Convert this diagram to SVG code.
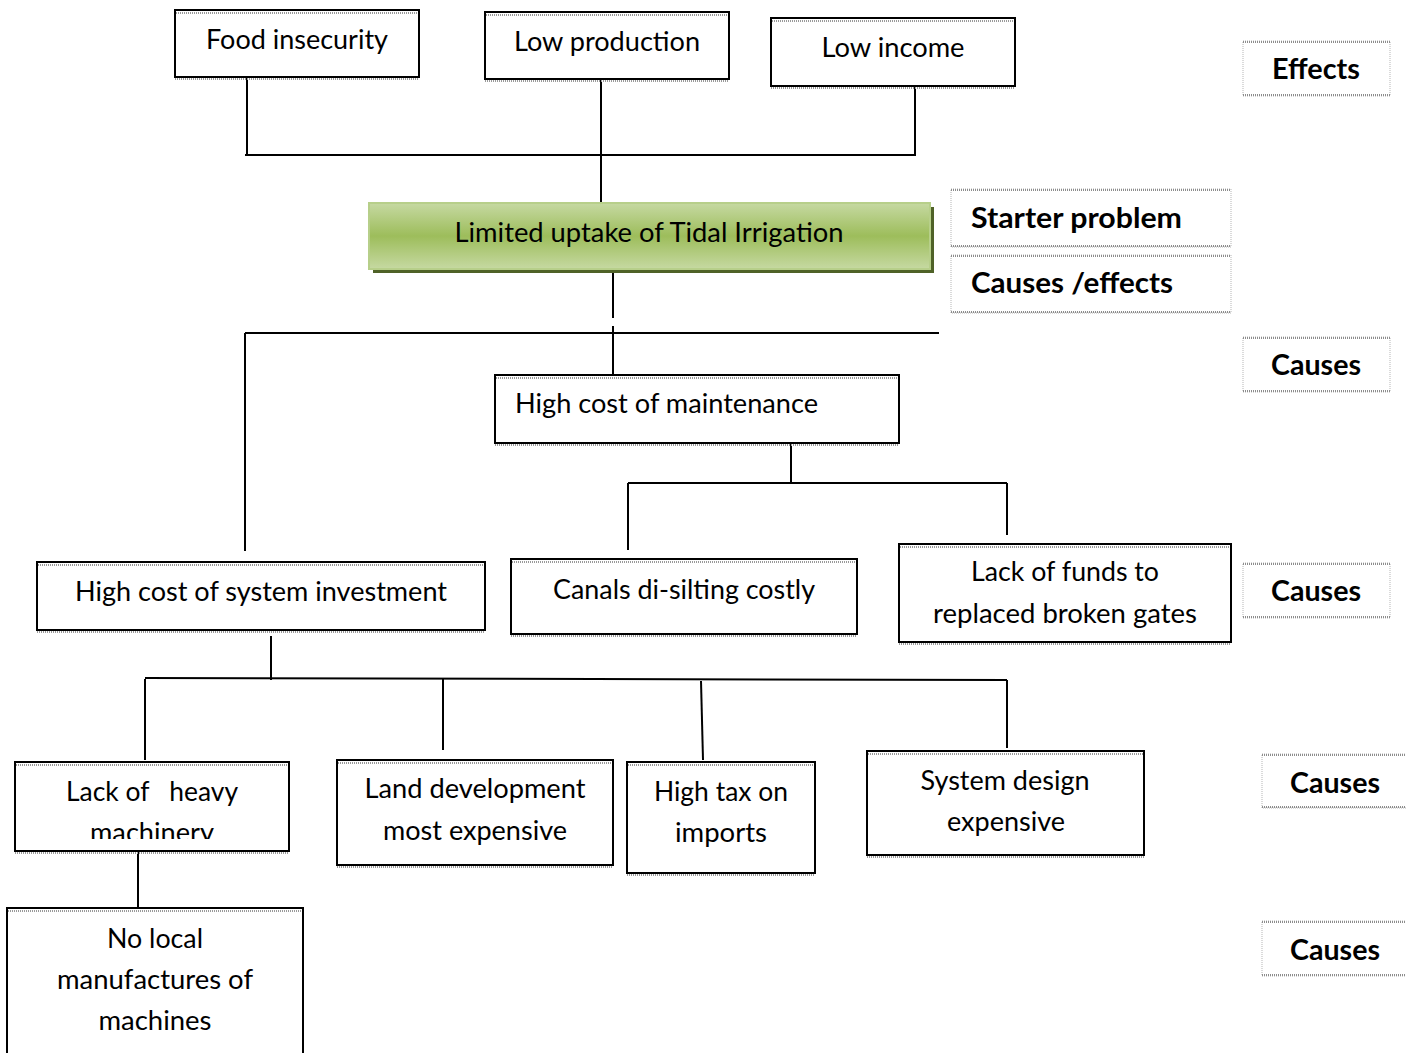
<svg xmlns="http://www.w3.org/2000/svg" width="1406" height="1053" viewBox="0 0 1406 1053">
  <defs>
    <linearGradient id="greenFill" x1="0" y1="0" x2="0" y2="1">
      <stop offset="0" stop-color="#c6d9a2"/>
      <stop offset="0.5" stop-color="#9dbd5b"/>
      <stop offset="1" stop-color="#c6d9a2"/>
    </linearGradient>
    <clipPath id="clipMachinery">
      <rect x="16" y="763" width="272" height="76"/>
    </clipPath>
  </defs>
  <style>
    .box { fill: #ffffff; stroke: #000000; stroke-width: 2; }
    .rule { stroke: #9a9a9a; stroke-width: 2; stroke-dasharray: 1 1; fill: none; }
    .tag { fill: #ffffff; stroke: #b5b5b5; stroke-width: 1; stroke-dasharray: 1 1; }
    .tagrule { stroke: #8c8c8c; stroke-width: 2; stroke-dasharray: 1 1; fill: none; }
    .txt { font-family: Lato, "Open Sans", sans-serif; font-size: 27px; fill: #000000; }
    .mid { text-anchor: middle; }
    .bold { font-family: Lato, "Open Sans", sans-serif; font-size: 28px; font-weight: 700; fill: #000000; }
    .conn line { stroke: #000000; stroke-width: 2; fill: none; }
  </style>

  <!-- connectors -->
  <g id="connectors" class="conn">
    <line x1="247" y1="77" x2="247" y2="155"/>
    <line x1="915" y1="86" x2="915" y2="155"/>
    <line x1="245" y1="155" x2="916" y2="155"/>
    <line x1="601" y1="79" x2="601" y2="203"/>
    <line x1="613" y1="270" x2="613" y2="318"/>
    <line x1="613" y1="326" x2="613" y2="375"/>
    <line x1="245" y1="333" x2="939" y2="333"/>
    <line x1="245" y1="333" x2="245" y2="551"/>
    <line x1="791" y1="443" x2="791" y2="483"/>
    <line x1="628" y1="483" x2="1007" y2="483"/>
    <line x1="628" y1="483" x2="628" y2="550"/>
    <line x1="1007" y1="483" x2="1007" y2="535"/>
    <line x1="271" y1="636" x2="271" y2="680"/>
    <line x1="145" y1="678" x2="1007" y2="680"/>
    <line x1="145" y1="679" x2="145" y2="760"/>
    <line x1="443" y1="678" x2="443" y2="750"/>
    <line x1="701" y1="681" x2="703" y2="760"/>
    <line x1="1007" y1="680" x2="1007" y2="748"/>
    <line x1="138" y1="851" x2="138" y2="908"/>
  </g>

  <!-- effects row -->
  <g id="food-insecurity">
    <rect class="box" x="175" y="10" width="244" height="67"/>
    <line class="rule" x1="176" y1="13" x2="418" y2="13"/>
    <line class="rule" x1="175" y1="79" x2="419" y2="79"/>
    <text class="txt mid" x="297" y="49" textLength="182" lengthAdjust="spacingAndGlyphs">Food insecurity</text>
  </g>
  <g id="low-production">
    <rect class="box" x="485" y="12" width="244" height="67"/>
    <line class="rule" x1="486" y1="15" x2="728" y2="15"/>
    <line class="rule" x1="485" y1="81" x2="729" y2="81"/>
    <text class="txt mid" x="607" y="51" textLength="186" lengthAdjust="spacingAndGlyphs">Low production</text>
  </g>
  <g id="low-income">
    <rect class="box" x="771" y="18" width="244" height="68"/>
    <line class="rule" x1="772" y1="21" x2="1014" y2="21"/>
    <line class="rule" x1="771" y1="88" x2="1015" y2="88"/>
    <text class="txt mid" x="893" y="57" textLength="143" lengthAdjust="spacingAndGlyphs">Low income</text>
  </g>

  <!-- core problem -->
  <g id="core-problem">
    <rect x="373" y="207" width="561" height="66" fill="#4f6228"/>
    <rect x="369" y="203" width="561" height="66" fill="url(#greenFill)" stroke="#b7cf8a" stroke-width="2"/>
    <text class="txt mid" x="649" y="242" textLength="389" lengthAdjust="spacingAndGlyphs">Limited uptake of Tidal Irrigation</text>
  </g>

  <!-- first-level causes -->
  <g id="maintenance-cost">
    <rect class="box" x="495" y="375" width="404" height="68"/>
    <line class="rule" x1="496" y1="378" x2="898" y2="378"/>
    <line class="rule" x1="495" y1="445" x2="899" y2="445"/>
    <text class="txt" x="515" y="413" textLength="303" lengthAdjust="spacingAndGlyphs">High cost of maintenance</text>
  </g>
  <g id="system-investment">
    <rect class="box" x="37" y="562" width="448" height="68"/>
    <line class="rule" x1="38" y1="565" x2="484" y2="565"/>
    <line class="rule" x1="37" y1="632" x2="485" y2="632"/>
    <text class="txt mid" x="261" y="601" textLength="372" lengthAdjust="spacingAndGlyphs">High cost of system investment</text>
  </g>
  <g id="canal-desilting">
    <rect class="box" x="511" y="559" width="346" height="75"/>
    <line class="rule" x1="512" y1="562" x2="856" y2="562"/>
    <line class="rule" x1="511" y1="636" x2="857" y2="636"/>
    <text class="txt mid" x="684" y="599" textLength="262" lengthAdjust="spacingAndGlyphs">Canals di-silting costly</text>
  </g>
  <g id="gate-funds">
    <rect class="box" x="899" y="544" width="332" height="98"/>
    <line class="rule" x1="900" y1="547" x2="1230" y2="547"/>
    <line class="rule" x1="899" y1="644" x2="1231" y2="644"/>
    <text class="txt mid" x="1065" y="581" textLength="188" lengthAdjust="spacingAndGlyphs">Lack of funds to</text>
    <text class="txt mid" x="1065" y="623" textLength="264" lengthAdjust="spacingAndGlyphs">replaced broken gates</text>
  </g>

  <!-- second-level causes -->
  <g id="heavy-machinery">
    <rect class="box" x="15" y="762" width="274" height="89"/>
    <line class="rule" x1="16" y1="765" x2="288" y2="765"/>
    <line class="rule" x1="15" y1="853" x2="289" y2="853"/>
    <g clip-path="url(#clipMachinery)">
      <text class="txt mid" x="152" y="801" textLength="172" lengthAdjust="spacingAndGlyphs" xml:space="preserve">Lack of   heavy</text>
      <text class="txt mid" x="152" y="842" textLength="124" lengthAdjust="spacingAndGlyphs">machinery</text>
    </g>
  </g>
  <g id="land-development">
    <rect class="box" x="337" y="760" width="276" height="105"/>
    <line class="rule" x1="338" y1="763" x2="612" y2="763"/>
    <line class="rule" x1="337" y1="867" x2="613" y2="867"/>
    <text class="txt mid" x="475" y="798" textLength="221" lengthAdjust="spacingAndGlyphs">Land development</text>
    <text class="txt mid" x="475" y="840" textLength="184" lengthAdjust="spacingAndGlyphs">most expensive</text>
  </g>
  <g id="import-tax">
    <rect class="box" x="627" y="762" width="188" height="111"/>
    <line class="rule" x1="628" y1="765" x2="814" y2="765"/>
    <line class="rule" x1="627" y1="875" x2="815" y2="875"/>
    <text class="txt mid" x="721" y="801" textLength="134" lengthAdjust="spacingAndGlyphs">High tax on</text>
    <text class="txt mid" x="721" y="842" textLength="92" lengthAdjust="spacingAndGlyphs">imports</text>
  </g>
  <g id="system-design">
    <rect class="box" x="867" y="751" width="277" height="104"/>
    <line class="rule" x1="868" y1="754" x2="1143" y2="754"/>
    <line class="rule" x1="867" y1="857" x2="1144" y2="857"/>
    <text class="txt mid" x="1005" y="790" textLength="169" lengthAdjust="spacingAndGlyphs">System design</text>
    <text class="txt mid" x="1006" y="831" textLength="118" lengthAdjust="spacingAndGlyphs">expensive</text>
  </g>

  <!-- root cause -->
  <g id="local-manufacture">
    <rect class="box" x="7" y="908" width="296" height="150"/>
    <line class="rule" x1="8" y1="911" x2="302" y2="911"/>
    <text class="txt mid" x="155" y="948" textLength="96" lengthAdjust="spacingAndGlyphs">No local</text>
    <text class="txt mid" x="155" y="989" textLength="196" lengthAdjust="spacingAndGlyphs">manufactures of</text>
    <text class="txt mid" x="155" y="1030" textLength="113" lengthAdjust="spacingAndGlyphs">machines</text>
  </g>

  <!-- level labels -->
  <g id="label-effects">
    <rect class="tag" x="1243" y="41" width="147" height="55"/>
    <line class="tagrule" x1="1243" y1="42" x2="1390" y2="42"/>
    <line class="tagrule" x1="1243" y1="95" x2="1390" y2="95"/>
    <text class="bold mid" x="1316" y="79" textLength="88" lengthAdjust="spacingAndGlyphs">Effects</text>
  </g>
  <g id="label-starter">
    <rect class="tag" x="951" y="189" width="280" height="58"/>
    <line class="tagrule" x1="951" y1="190" x2="1231" y2="190"/>
    <line class="tagrule" x1="951" y1="246" x2="1231" y2="246"/>
    <text class="bold" x="971" y="228" textLength="211" lengthAdjust="spacingAndGlyphs">Starter problem</text>
  </g>
  <g id="label-causes-effects">
    <rect class="tag" x="951" y="255" width="280" height="58"/>
    <line class="tagrule" x1="951" y1="256" x2="1231" y2="256"/>
    <line class="tagrule" x1="951" y1="312" x2="1231" y2="312"/>
    <text class="bold" x="971" y="293" textLength="202" lengthAdjust="spacingAndGlyphs">Causes /effects</text>
  </g>
  <g id="label-causes-1">
    <rect class="tag" x="1243" y="337" width="147" height="55"/>
    <line class="tagrule" x1="1243" y1="338" x2="1390" y2="338"/>
    <line class="tagrule" x1="1243" y1="391" x2="1390" y2="391"/>
    <text class="bold mid" x="1316" y="375" textLength="90" lengthAdjust="spacingAndGlyphs">Causes</text>
  </g>
  <g id="label-causes-2">
    <rect class="tag" x="1243" y="563" width="147" height="55"/>
    <line class="tagrule" x1="1243" y1="564" x2="1390" y2="564"/>
    <line class="tagrule" x1="1243" y1="617" x2="1390" y2="617"/>
    <text class="bold mid" x="1316" y="601" textLength="90" lengthAdjust="spacingAndGlyphs">Causes</text>
  </g>
  <g id="label-causes-3">
    <rect class="tag" x="1262" y="754" width="150" height="54"/>
    <line class="tagrule" x1="1262" y1="755" x2="1406" y2="755"/>
    <line class="tagrule" x1="1262" y1="807" x2="1406" y2="807"/>
    <text class="bold mid" x="1335" y="793" textLength="90" lengthAdjust="spacingAndGlyphs">Causes</text>
  </g>
  <g id="label-causes-4">
    <rect class="tag" x="1262" y="921" width="150" height="55"/>
    <line class="tagrule" x1="1262" y1="922" x2="1406" y2="922"/>
    <line class="tagrule" x1="1262" y1="975" x2="1406" y2="975"/>
    <text class="bold mid" x="1335" y="960" textLength="90" lengthAdjust="spacingAndGlyphs">Causes</text>
  </g>
</svg>
